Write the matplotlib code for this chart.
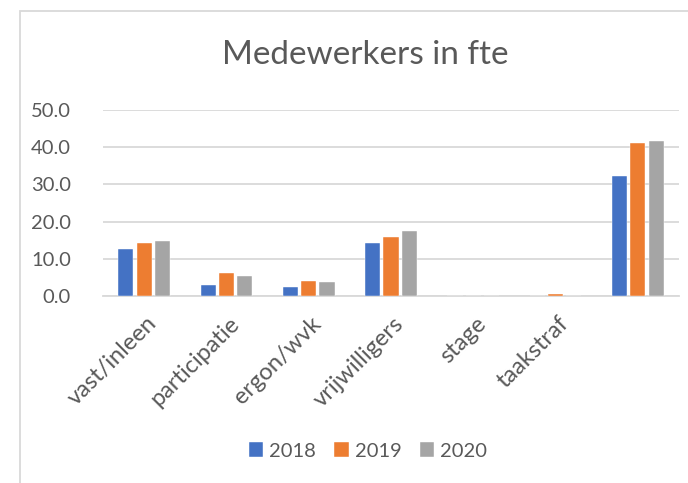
import numpy as np
import matplotlib.pyplot as plt
import matplotlib.transforms as mtransforms
from matplotlib.patches import Rectangle

# Data
categories = ['vast/inleen', 'participatie', 'ergon/wvk', 'vrijwilligers', 'stage', 'taakstraf', '']
years = ['2018', '2019', '2020']
fte_2018 = [12.6, 2.9, 2.5, 14.2, 0.0, 0.1, 32.3]
fte_2019 = [14.3, 6.1, 4.1, 15.8, 0.0, 0.6, 41.1]
fte_2020 = [14.7, 5.4, 3.8, 17.6, 0.0, 0.1, 41.7]
yticks = [0, 10, 20, 30, 40, 50]

colors = ['#4472C4', '#ED7D31', '#A5A5A5']
text_col = '#595959'
grid_col = '#D9D9D9'

plt.rcParams['font.family'] = ['Lato', 'DejaVu Sans']

W, H = 688, 483
fig = plt.figure(figsize=(W / 100, H / 100), dpi=100)

# chart area border (runs off the right and bottom edge)
fig.patches.append(Rectangle((20 / W, -0.1), 1.2, (H - 11) / H + 0.1,
                             transform=fig.transFigure, fill=False,
                             edgecolor=grid_col, linewidth=1.3))

ax = fig.add_axes([103 / W, (H - 296) / H, (679 - 103) / W, (296 - 110) / H])

x = np.arange(len(categories))
step = 0.222
width = 0.185
for i, (vals, yr) in enumerate(zip([fte_2018, fte_2019, fte_2020], years)):
    ax.bar(x + (i - 1) * step, vals, width, color=colors[i], label=yr,
           edgecolor='white', linewidth=0.3, zorder=3)

ax.set_xlim(-0.5, len(categories) - 0.5)
ax.set_ylim(0, 50)
ax.set_yticks(yticks)
ax.set_yticklabels([f'{v:.1f}' for v in yticks], color=text_col, fontsize=14.5)
ax.yaxis.grid(True, color=grid_col, linewidth=1.3, zorder=0)
ax.tick_params(axis='y', length=0, pad=23)
ax.tick_params(axis='x', length=0, pad=12)

ax.set_xticks(x)
ax.set_xticklabels(categories, rotation=45, ha='right', rotation_mode='anchor',
                   color=text_col, fontsize=17)
# nudge the rotated labels a little to the right, like Excel does
shift = mtransforms.ScaledTranslation(2 / 100, 0, fig.dpi_scale_trans)
for lbl in ax.get_xticklabels():
    lbl.set_transform(lbl.get_transform() + shift)

for side in ['top', 'right', 'left']:
    ax.spines[side].set_visible(False)
ax.spines['bottom'].set_color(grid_col)
ax.spines['bottom'].set_linewidth(1.3)

fig.text(365 / W, 1 - 55 / H, 'Medewerkers in fte', ha='center', va='center',
         fontsize=24, color=text_col)

fig.legend(loc='center', bbox_to_anchor=(368 / W, 1 - 451 / H), ncol=3,
           frameon=False, fontsize=14.5, labelcolor=text_col,
           handlelength=0.7, handleheight=0.7, handletextpad=0.3,
           columnspacing=0.9)

fig.savefig('out.png', dpi=100)
